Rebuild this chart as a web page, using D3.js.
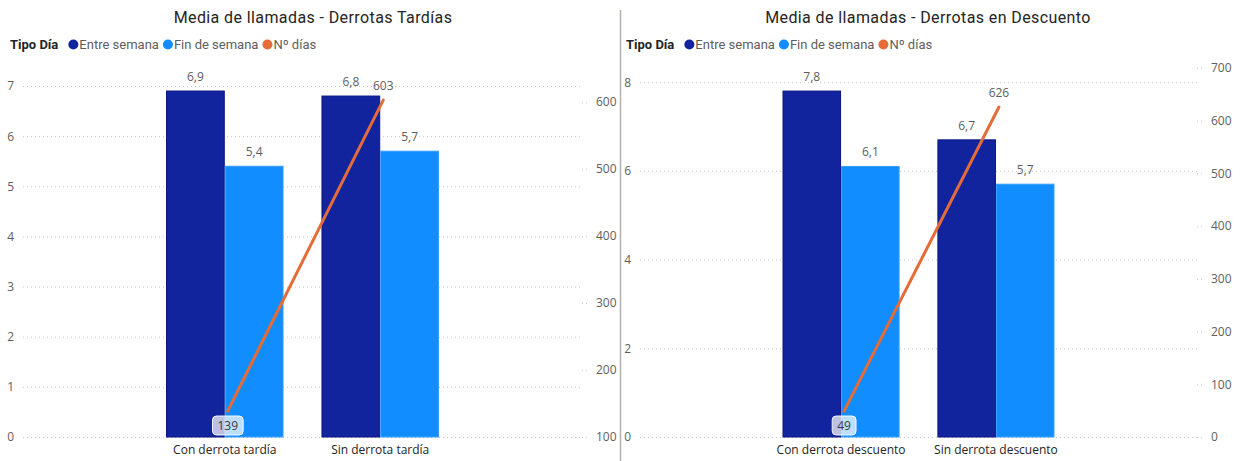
<!DOCTYPE html>
<html>
<head>
<meta charset="utf-8">
<script src="https://cdn.jsdelivr.net/npm/d3@7"></script>
<style>
  body { margin: 0; background: #fff; }
  svg { display: block; }
</style>
</head>
<body>
<svg id="chart" width="1244" height="461"></svg>
<script>
const categoriasTardias = ["Con derrota tardía", "Sin derrota tardía"];
const entreSemanaTardias = [6.9, 6.8];
const finSemanaTardias = [5.4, 5.7];
const diasTardias = [139, 603];
const ticksIzqTardias = [0, 1, 2, 3, 4, 5, 6, 7];
const ticksDerTardias = [100, 200, 300, 400, 500, 600];

const categoriasDescuento = ["Con derrota descuento", "Sin derrota descuento"];
const entreSemanaDescuento = [7.8, 6.7];
const finSemanaDescuento = [6.1, 5.7];
const diasDescuento = [49, 626];
const ticksIzqDescuento = [0, 2, 4, 6, 8];
const ticksDerDescuento = [0, 100, 200, 300, 400, 500, 600, 700];

const series = ["Entre semana", "Fin de semana", "Nº días"];

const color = {
  entre: "#12239E",
  entreStroke: "#0A1682",
  fin: "#118DFF",
  finStroke: "#3B9DFF",
  linea: "#E66C37",
  texto: "#605E5C",
  titulo: "#252423",
  grid: "#C8C6C4",
};

const fmtComa = (v) => d3.format(".1f")(v).replace(".", ",");

const svg = d3.select("#chart");

function createChart(cfg) {
  const g = svg.append("g");

  // titulo
  g.append("text")
    .attr("x", cfg.titleX)
    .attr("y", 23)
    .attr("text-anchor", "middle")
    .style("font-family", "Roboto, sans-serif")
    .style("font-size", "16px")
    .style("letter-spacing", "0.4px")
    .style("fill", color.titulo)
    .text(cfg.title);

  // leyenda
  const leg = g.append("g").attr("transform", `translate(${cfg.legendX},49)`);
  const tipo = leg.append("text")
    .attr("x", 0)
    .attr("y", 0)
    .style("font-family", "Roboto, sans-serif")
    .style("font-size", "13px")
    .style("font-weight", "bold")
    .style("fill", color.titulo)
    .text("Tipo Día");
  let lx = tipo.node().getComputedTextLength() + 11;
  const legColors = [color.entre, color.fin, color.linea];
  series.forEach(function (s, i) {
    leg.append("circle")
      .attr("cx", lx + 4)
      .attr("cy", -4.5)
      .attr("r", 5)
      .attr("fill", legColors[i]);
    const t = leg.append("text")
      .attr("x", lx + 10)
      .attr("y", 0)
      .style("font-family", "Roboto, sans-serif")
      .style("font-size", "13px")
      .style("fill", color.texto)
      .text(s);
    lx += 10 + t.node().getComputedTextLength() + 5;
  });

  const x = d3.scaleBand()
    .domain(cfg.categories)
    .range([cfg.left, cfg.right])
    .paddingInner(0.244)
    .paddingOuter(0.92);

  const x1 = d3.scaleBand()
    .domain(["entre", "fin"])
    .range([0, x.bandwidth()]);

  const yL = d3.scaleLinear().domain(cfg.leftDomain).range([cfg.bottom, cfg.top]);
  const yR = d3.scaleLinear().domain(cfg.rightDomain).range([cfg.bottom, cfg.top]);

  // rejilla y eje izquierdo
  const leftAxis = d3.axisLeft(yL)
    .tickValues(cfg.leftTicks)
    .tickSize(-(cfg.right - cfg.left))
    .tickPadding(9)
    .tickFormat(d3.format("d"));
  const la = g.append("g")
    .attr("transform", `translate(${cfg.left},0)`)
    .call(leftAxis);
  la.select(".domain").remove();
  la.selectAll("line")
    .attr("stroke", color.grid)
    .attr("stroke-dasharray", "1,3");
  la.selectAll("text")
    .style("font-family", "'Open Sans', sans-serif")
    .style("font-size", "12px")
    .style("fill", color.texto);

  // eje derecho
  const rightAxis = d3.axisRight(yR)
    .tickValues(cfg.rightTicks)
    .tickSize(8)
    .tickPadding(6)
    .tickFormat(d3.format("d"));
  const ra = g.append("g")
    .attr("transform", `translate(${cfg.right},0)`)
    .call(rightAxis);
  ra.select(".domain").remove();
  ra.selectAll("line")
    .attr("stroke", color.grid)
    .attr("stroke-dasharray", "1,3");
  ra.selectAll("text")
    .style("font-family", "'Open Sans', sans-serif")
    .style("font-size", "12px")
    .style("fill", color.texto);

  // barras
  const rows = cfg.categories.map(function (c, i) {
    return { cat: c, entre: cfg.entre[i], fin: cfg.fin[i], dias: cfg.dias[i] };
  });

  const grupos = g.append("g")
    .selectAll("g")
    .data(rows)
    .join("g")
    .attr("transform", (d) => `translate(${x(d.cat)},0)`);

  const barras = grupos.selectAll("g")
    .data((d) => [
      { key: "entre", value: d.entre },
      { key: "fin", value: d.fin },
    ])
    .join("g");

  barras.append("rect")
    .attr("x", (d) => x1(d.key) + 0.5)
    .attr("y", (d) => yL(d.value))
    .attr("width", x1.bandwidth() - 1)
    .attr("height", (d) => yL(0) - yL(d.value))
    .attr("fill", (d) => (d.key == "entre" ? color.entre : color.fin))
    .attr("stroke", (d) => (d.key == "entre" ? color.entreStroke : color.finStroke))
    .attr("stroke-width", 1);

  barras.append("text")
    .attr("x", (d) => x1(d.key) + x1.bandwidth() / 2)
    .attr("y", (d) => yL(d.value) - 10)
    .attr("text-anchor", "middle")
    .style("font-family", "'Open Sans', sans-serif")
    .style("font-size", "12px")
    .style("fill", color.texto)
    .text((d) => fmtComa(d.value));

  // categorias
  g.append("g")
    .selectAll("text")
    .data(cfg.categories)
    .join("text")
    .attr("x", (d) => x(d) + x.bandwidth() / 2)
    .attr("y", cfg.bottom + 17)
    .attr("text-anchor", "middle")
    .style("font-family", "'Open Sans', sans-serif")
    .style("font-size", "12px")
    .style("fill", "#252423")
    .text((d) => d);

  // linea de nº dias
  const cx = (d) => x(d.cat) + x.bandwidth() / 2 + 3;
  g.append("path")
    .datum(rows)
    .attr("fill", "none")
    .attr("stroke", color.linea)
    .attr("stroke-width", 3)
    .attr("stroke-linecap", "round")
    .attr("d", d3.line().x(cx).y((d) => yR(d.dias)));

  // etiqueta inferior (con caja)
  const low = rows[0];
  const lowG = g.append("g");
  const lowT = lowG.append("text")
    .attr("x", cx(low))
    .attr("y", cfg.bottom - 7)
    .attr("text-anchor", "middle")
    .style("font-family", "'Open Sans', sans-serif")
    .style("font-size", "12px")
    .style("fill", "#3a3a3a")
    .text(low.dias);
  const bb = lowT.node().getBBox();
  lowG.insert("rect", "text")
    .attr("x", bb.x - 5)
    .attr("y", bb.y - 1)
    .attr("width", bb.width + 10)
    .attr("height", bb.height + 2)
    .attr("rx", 4)
    .attr("fill", "rgba(255,255,255,0.72)")
    .attr("stroke", "rgba(255,255,255,0.9)");

  // etiqueta superior
  const high = rows[1];
  g.append("text")
    .attr("x", cx(high))
    .attr("y", yR(high.dias) - 10)
    .attr("text-anchor", "middle")
    .style("font-family", "'Open Sans', sans-serif")
    .style("font-size", "12px")
    .style("fill", color.texto)
    .text(high.dias);
}

// separador
svg.append("line")
  .attr("x1", 620.5)
  .attr("x2", 620.5)
  .attr("y1", 10)
  .attr("y2", 461)
  .attr("stroke", "#B3B0AD")
  .attr("stroke-width", 1.5);

createChart({
  title: "Media de llamadas - Derrotas Tardías",
  titleX: 313,
  legendX: 10,
  categories: categoriasTardias,
  entre: entreSemanaTardias,
  fin: finSemanaTardias,
  dias: diasTardias,
  leftTicks: ticksIzqTardias,
  rightTicks: ticksDerTardias,
  leftDomain: [0, 7.12],
  rightDomain: [100, 633],
  left: 23,
  right: 582,
  top: 80,
  bottom: 437,
});

createChart({
  title: "Media de llamadas - Derrotas en Descuento",
  titleX: 928,
  legendX: 626,
  categories: categoriasDescuento,
  entre: entreSemanaDescuento,
  fin: finSemanaDescuento,
  dias: diasDescuento,
  leftTicks: ticksIzqDescuento,
  rightTicks: ticksDerDescuento,
  leftDomain: [0, 8.32],
  rightDomain: [0, 700],
  left: 640,
  right: 1197,
  top: 68,
  bottom: 437,
});
</script>
</body>
</html>
